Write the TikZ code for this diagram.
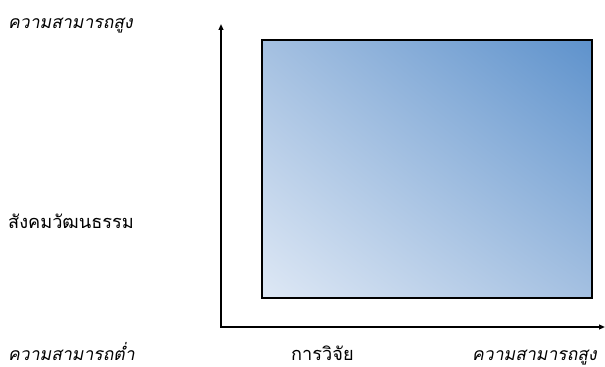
\documentclass[tikz,border=0pt]{standalone}
\usepackage{fontspec}
\usepackage{tikz}
\usetikzlibrary{arrows.meta, positioning, shadings}
\newfontfamily\thaifont[Script=Thai]{Loma}
\newfontfamily\thaislant[Script=Thai, FakeSlant=0.2]{Loma}
\definecolor{boxlight}{RGB}{222,232,245}
\definecolor{boxmid}{RGB}{164,192,225}
\definecolor{boxdark}{RGB}{94,146,204}
\tikzset{
  axis/.style={-{Triangle[length=5pt,width=4pt]}, line width=1.3pt, color=black},
  slantlabel/.style={anchor=base west, inner sep=0pt, font=\fontsize{15}{17}\selectfont\thaislant},
  plainlabel/.style={anchor=base west, inner sep=0pt, font=\fontsize{15.5}{17}\selectfont\thaifont}
}

\begin{document}
\begin{tikzpicture}[x=0.03cm, y=-0.03cm]
  \useasboundingbox (0,0) rectangle (605,367);

  % gradient box
  \shade[lower left=boxlight, upper right=boxdark, upper left=boxmid, lower right=boxmid]
    (262,40) rectangle (592,298);
  \draw[line width=1.3pt] (262,40) rectangle (592,298);

  % axes
  \coordinate (origin) at (221,327);
  \coordinate (ytop) at (221,24);
  \coordinate (xend) at (605,327);
  \draw[axis] (origin) -- (ytop);
  \draw[axis] ([xshift=-0.65pt]origin) -- (xend);

  % labels
  \node (high) [slantlabel] at (8,29) {ความสามารถสูง};
  \node (culture) [plainlabel] at (8,229) {สังคมวัฒนธรรม};
  \node (low) [slantlabel] at (8,360) {ความสามารถต่ำ};
  \node (research) [plainlabel] at (291,360) {การวิจัย};
  \node (highx) [slantlabel] at (472,360) {ความสามารถสูง};
\end{tikzpicture}
\end{document}
